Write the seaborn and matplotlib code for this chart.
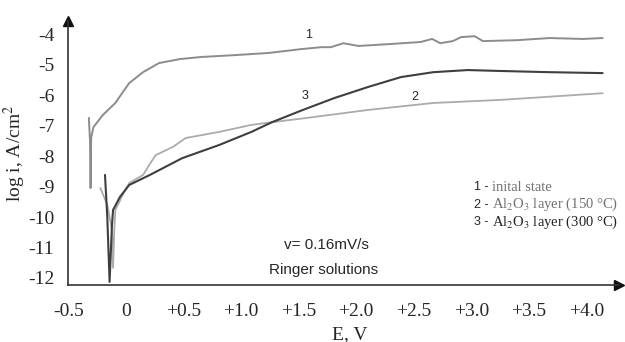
"""Polarization curves in Ringer solution: initial state vs Al2O3 layers."""

import matplotlib.pyplot as plt
import pandas as pd
import seaborn as sns

# curve 1 - initial state
e_initial = [-0.32, -0.31, -0.305, -0.30, -0.28, -0.20, -0.09, -0.03, 0.03, 0.15,
             0.29, 0.47, 0.66, 0.95, 1.24, 1.53, 1.70, 1.78, 1.89, 2.02, 2.28,
             2.56, 2.66, 2.73, 2.84, 2.91, 3.03, 3.10, 3.40, 3.68, 3.97, 4.14]
log_initial = [-6.75, -7.5, -9.05, -7.4, -7.05, -6.66, -6.26, -5.93, -5.61, -5.25,
               -4.95, -4.82, -4.75, -4.69, -4.62, -4.49, -4.43, -4.43, -4.30, -4.39, -4.33,
               -4.26, -4.16, -4.30, -4.23, -4.10, -4.07, -4.23, -4.20, -4.13, -4.16, -4.13]

# curve 2 - Al2O3 layer (150 C)
e_150 = [-0.22, -0.16, -0.12, -0.11, -0.10, -0.09, -0.03, 0.03, 0.15, 0.22, 0.26,
         0.41, 0.52, 0.81, 1.09, 1.27, 1.53, 1.96, 2.10, 2.67, 3.25, 4.14]
log_150 = [-9.05, -9.6, -10.4, -11.67, -10.5, -9.77, -9.3, -8.89, -8.62, -8.20, -7.97,
           -7.70, -7.41, -7.21, -6.98, -6.89, -6.77, -6.56, -6.49, -6.26, -6.16, -5.94]

# curve 3 - Al2O3 layer (300 C)
e_300 = [-0.18, -0.16, -0.14, -0.12, -0.11, -0.05, 0.03, 0.21, 0.49, 0.81, 1.09,
         1.27, 1.53, 1.81, 2.10, 2.39, 2.67, 2.97, 3.25, 3.68, 4.14]
log_300 = [-8.62, -10.0, -12.13, -10.3, -9.77, -9.34, -8.95, -8.62, -8.07, -7.64, -7.21,
           -6.89, -6.50, -6.10, -5.74, -5.41, -5.25, -5.18, -5.21, -5.25, -5.28]

x_ticks = [-0.5, 0, 0.5, 1.0, 1.5, 2.0, 2.5, 3.0, 3.5, 4.0]
x_tick_labels = ["-0.5", "0", "+0.5", "+1.0", "+1.5", "+2.0", "+2.5", "+3.0", "+3.5", "+4.0"]
y_ticks = [-4, -5, -6, -7, -8, -9, -10, -11, -12]

legend_numbers = ["1 -", "2 -", "3 -"]
legend_names = ["inital state", r"Al$_2$O$_3$ layer (150 °C)", r"Al$_2$O$_3$ layer (300 °C)"]

sns.set_style("white")
plt.rcParams["font.family"] = ["Liberation Serif", "DejaVu Serif"]
plt.rcParams["mathtext.fontset"] = "stix"

fig = plt.figure(figsize=(6.25, 3.42), dpi=100)
ax = fig.add_axes([0.109, 0.1667, 0.881, 0.772])

curves = [
    (e_initial, log_initial, "#8c8c8c", 1.4),
    (e_150, log_150, "#ababab", 1.3),
    (e_300, log_300, "#3f3f3f", 1.5),
]
for e, logi, color, lw in curves:
    df = pd.DataFrame({"E": e, "log_i": logi})
    sns.lineplot(data=df, x="E", y="log_i", sort=False, estimator=None,
                 color=color, lw=lw, ax=ax)

ax.set_xlim(-0.474, 4.28)
ax.set_ylim(-12.23, -3.57)
ax.set_xticks(x_ticks)
ax.set_xticklabels(x_tick_labels)
ax.set_yticks(y_ticks)
ax.set_yticklabels([str(v) for v in y_ticks])
ax.tick_params(axis="both", length=0, labelsize=14)
ax.tick_params(axis="y", pad=10)
ax.tick_params(axis="x", pad=13)

for side in ["top", "right"]:
    ax.spines[side].set_visible(False)
for side in ["left", "bottom"]:
    ax.spines[side].set_color("#333333")
    ax.spines[side].set_linewidth(1.2)

# arrow heads on the axes
ax.plot(1, 0, ">", color="#111111", ms=7, transform=ax.transAxes, clip_on=False)
ax.plot(0, 1, "^", color="#111111", ms=7, transform=ax.transAxes, clip_on=False)

ax.set_xlabel("E, V", fontsize=14)
ax.set_ylabel("log i, A/cm$^2$", fontsize=14)
ax.xaxis.set_label_coords(0.512, -0.155)
ax.yaxis.set_label_coords(-0.073, 0.5)

# curve numbers
sans = ["Liberation Sans", "DejaVu Sans"]
ax.text(1.59, -4.03, "1", family=sans, fontsize=9, ha="center", va="center")
ax.text(1.56, -6.03, "3", family=sans, fontsize=9, ha="center", va="center")
ax.text(2.51, -6.07, "2", family=sans, fontsize=9, ha="center", va="center")

# legend-like annotation
name_colors = ["#707070", "#707070", "#222222"]
for i, (num, name) in enumerate(zip(legend_numbers, legend_names)):
    y = -9.02 - i * 0.57
    ax.text(3.02, y, num, family=sans, fontsize=9, ha="left", va="center")
    ax.text(3.18, y, name, fontsize=10.5, color=name_colors[i], ha="left", va="center")

ax.text(1.74, -10.92, "v= 0.16mV/s", family=sans, fontsize=11, ha="center", va="center")
ax.text(1.72, -11.74, "Ringer solutions", family=sans, fontsize=11, ha="center", va="center")

fig.savefig("out.png", dpi=100)
